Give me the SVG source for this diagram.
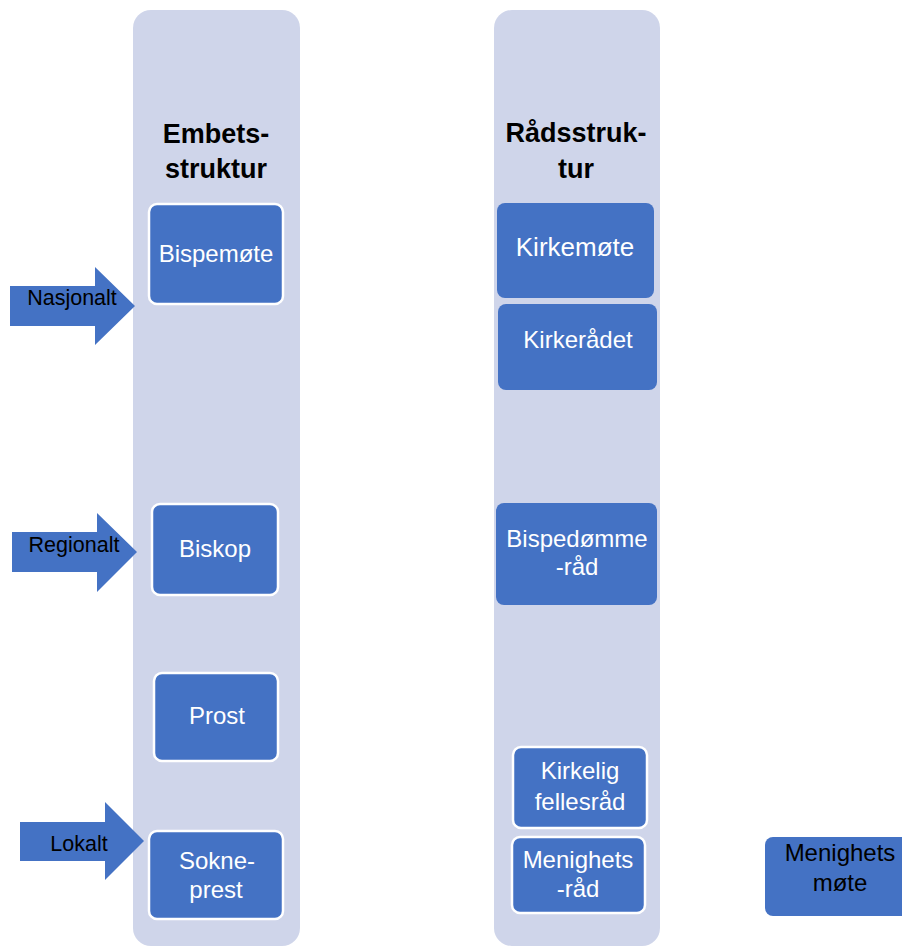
<svg xmlns="http://www.w3.org/2000/svg" width="902" height="948" viewBox="0 0 902 948">
<style>
.col{fill:#CFD5EA}
.box{fill:#4472C4}
.bw{stroke:#FFFFFF;stroke-width:2.5}
.arr{fill:#4472C4}
text{font-family:"Liberation Sans",Arial,sans-serif;text-anchor:middle}
.t{fill:#FFFFFF;font-size:24px}
.h{fill:#000000;font-size:27px;font-weight:bold}
.a{fill:#000000;font-size:21.5px}
</style>
<rect width="902" height="948" fill="#FFFFFF"/>
<g id="col-embets">
<rect class="col" x="133" y="10" width="167" height="936" rx="18"/>
<text class="h" x="216" y="143">Embets-</text>
<text class="h" x="216" y="178">struktur</text>
</g>
<g id="col-rad">
<rect class="col" x="494" y="10" width="166" height="936" rx="18"/>
<text class="h" x="576" y="142">Rådsstruk-</text>
<text class="h" x="576" y="178">tur</text>
</g>
<g id="level-arrows">
<g id="arrow-nasjonalt">
<polygon class="arr" points="10,286 95,286 95,267 135,306 95,345 95,326 10,326"/>
<text class="a" x="72" y="305">Nasjonalt</text>
</g>
<g id="arrow-regionalt">
<polygon class="arr" points="12,532 97,532 97,513 137,552 97,592 97,572 12,572"/>
<text class="a" x="74" y="552">Regionalt</text>
</g>
<g id="arrow-lokalt">
<polygon class="arr" points="20,822 105,822 105,802 144,841 105,880 105,861 20,861"/>
<text class="a" x="79" y="851">Lokalt</text>
</g>
</g>
<g id="bispemote">
<rect class="box bw" x="149" y="204" width="134" height="100" rx="8"/>
<text class="t" x="216" y="262">Bispemøte</text>
</g>
<g id="biskop">
<rect class="box bw" x="152" y="504" width="126" height="91" rx="8"/>
<text class="t" x="215" y="557">Biskop</text>
</g>
<g id="prost">
<rect class="box bw" x="154" y="673" width="124" height="88" rx="8"/>
<text class="t" x="217" y="724">Prost</text>
</g>
<g id="sokneprest">
<rect class="box bw" x="149" y="831" width="134" height="88" rx="8"/>
<text class="t" x="217" y="869">Sokne-</text>
<text class="t" x="216" y="898">prest</text>
</g>
<g id="kirkemote">
<rect class="box" x="497" y="203" width="157" height="95" rx="8"/>
<text class="t" x="575" y="256" style="font-size:26px">Kirkemøte</text>
</g>
<g id="kirkeradet">
<rect class="box" x="498" y="304" width="159" height="86" rx="8"/>
<text class="t" x="578" y="348">Kirkerådet</text>
</g>
<g id="bispedommerad">
<rect class="box" x="496" y="503" width="161" height="102" rx="8"/>
<text class="t" x="577" y="547">Bispedømme</text>
<text class="t" x="577" y="575">-råd</text>
</g>
<g id="kirkelig-fellesrad">
<rect class="box bw" x="513" y="747" width="134" height="81" rx="8"/>
<text class="t" x="580" y="779">Kirkelig</text>
<text class="t" x="580" y="810">fellesråd</text>
</g>
<g id="menighetsrad">
<rect class="box bw" x="512" y="837" width="133" height="76" rx="8"/>
<text class="t" x="578" y="868">Menighets</text>
<text class="t" x="578" y="897">-råd</text>
</g>
<g id="menighetsmote">
<rect class="box" x="765" y="837" width="150" height="79" rx="8"/>
<text class="a" x="840" y="861" style="font-size:24px">Menighets</text>
<text class="a" x="840" y="891" style="font-size:24px">møte</text>
</g>
<g id="connectors"></g>
</svg>
